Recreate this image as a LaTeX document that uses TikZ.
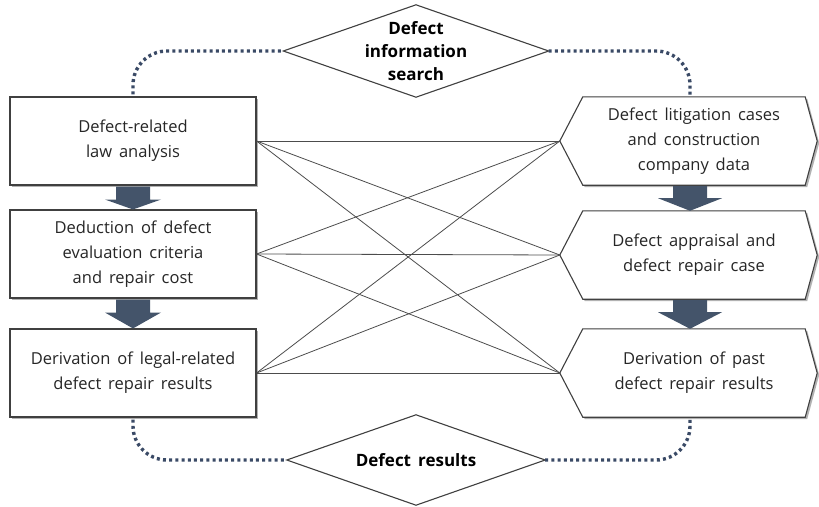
\documentclass[tikz,border=0pt]{standalone}
\usepackage{fontspec}
\setmainfont[WordSpace=1.6]{Open Sans}
\usetikzlibrary{shadows,calc,backgrounds}
\definecolor{navy}{HTML}{44546A}
\definecolor{dotc}{HTML}{3A4A66}
\definecolor{edgec}{HTML}{404040}
\definecolor{txtc}{HTML}{262626}
\begin{document}
\begin{tikzpicture}[x=1pt,y=-1pt,
  lbox/.style={draw=edgec,line width=1.1pt,fill=white,minimum width=246pt,minimum height=88pt,
    inner sep=0pt,align=center,text=txtc,font=\fontsize{16.5}{25}\selectfont,
    drop shadow={shadow xshift=2pt,shadow yshift=-2pt,fill=black,opacity=0.3}},
  hexbox/.style={minimum width=222pt,minimum height=88pt,inner sep=0pt,align=center,text=txtc,
    font=\fontsize{16.5}{25}\selectfont},
  hexline/.style={draw=edgec,line width=1.1pt,fill=white,
    drop shadow={shadow xshift=2pt,shadow yshift=-2pt,fill=black,opacity=0.3}},
  dia/.style={inner sep=0pt,align=center,text=black,font=\bfseries\fontsize{17}{23}\selectfont},
  dialine/.style={draw=edgec,line width=1.1pt,fill=white},
  cross/.style={draw=black!70,line width=0.8pt},
  dots/.style={draw=dotc,line width=3.4pt,dash pattern=on 3pt off 3.2pt,rounded corners=34pt},
  barrow/.style={fill=navy}
]
\useasboundingbox (0,0) rectangle (819,506);

% left boxes
\node[lbox] (L1) at (133,141) {Defect-related\\law analysis};
\node[lbox] (L2) at (133,254) {Deduction of defect\\evaluation criteria\\and repair cost};
\node[lbox] (L3) at (133,373) {Derivation of legal-related\\defect repair results};

% right hexagons (text nodes)
\node[hexbox] (H1) at (694,141) {Defect litigation cases\\and construction\\company data};
\node[hexbox] (H2) at (694,255) {Defect appraisal and\\defect repair case};
\node[hexbox] (H3) at (694,373) {Derivation of past\\defect repair results};

% diamonds (text nodes)
\node[dia,minimum width=265pt,minimum height=92pt] (D1) at (416,51) {Defect\\information\\search};
\node[dia,minimum width=258pt,minimum height=90pt] (D2) at (416,460) {Defect results};

\begin{scope}[on background layer]
  \foreach \h in {H1,H2,H3}{
    \path[hexline] (\h.north west) -- (\h.north east) -- ($(\h.east)+(12,0)$) -- (\h.south east)
      -- (\h.south west) -- ($(\h.west)+(-23,0)$) -- cycle;
  }
  \foreach \d in {D1,D2}{
    \path[dialine] (\d.west) -- (\d.north) -- (\d.east) -- (\d.south) -- cycle;
  }
\end{scope}

\coordinate (P1) at ($(H1.west)+(-23,0)$);
\coordinate (P2) at ($(H2.west)+(-23,0)$);
\coordinate (P3) at ($(H3.west)+(-23,0)$);

% crossing connectors
\foreach \a in {L1,L2,L3}{
  \foreach \b in {P1,P2,P3}{
    \draw[cross] (\a.east) -- (\b);
  }
}

% block arrows left
\foreach \a/\b in {L1/L2,L2/L3}{
  \fill[barrow] ($(\a.south)+(-17,1)$) -- ($(\a.south)+(-17,14)$) -- ($(\a.south)+(-28,14)$)
    -- (\b.north) -- ($(\a.south)+(28,14)$) -- ($(\a.south)+(17,14)$) -- ($(\a.south)+(17,1)$) -- cycle;
}
% block arrows right
\foreach \a/\b in {H1/H2,H2/H3}{
  \coordinate (ta) at ($(\a.south)+(-4,0)$);
  \coordinate (tb) at ($(\b.north)+(-4,0)$);
  \fill[barrow] ($(ta)+(-17,1)$) -- ($(ta)+(-17,13)$) -- ($(ta)+(-32,13)$)
    -- (tb) -- ($(ta)+(32,13)$) -- ($(ta)+(17,13)$) -- ($(ta)+(17,1)$) -- cycle;
}

% dotted loops
\coordinate (T1) at ($(L1.north)+(0,-2)$);
\coordinate (T2) at ($(H1.north)+(-4,-2)$);
\coordinate (B1) at ($(L3.south)+(0,2)$);
\coordinate (B2) at ($(H3.south)+(-4,2)$);
\draw[dots] (T1) |- (D1.west);
\draw[dots] (D1.east) -| (T2);
\draw[dots] (B1) |- (D2.west);
\draw[dots] (D2.east) -| (B2);
\end{tikzpicture}
\end{document}
